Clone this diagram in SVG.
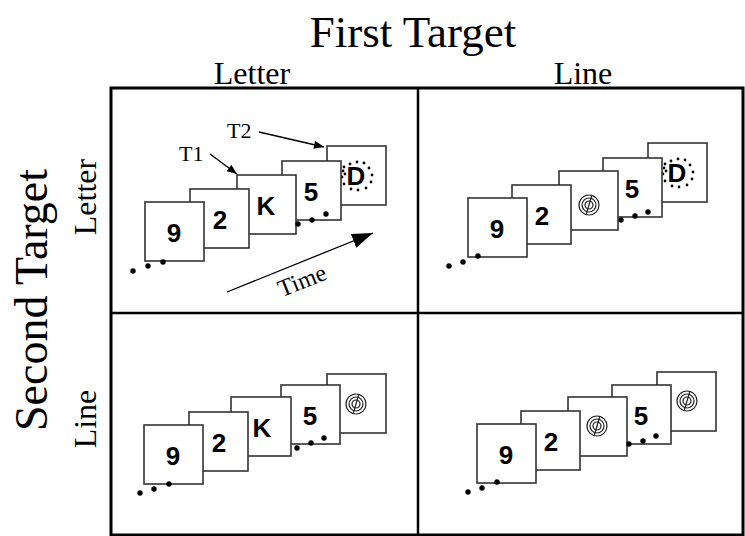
<svg xmlns="http://www.w3.org/2000/svg" xmlns:xlink="http://www.w3.org/1999/xlink" width="745" height="536" viewBox="0 0 745 536">
  <style>
    .serif { font-family: "Liberation Serif", "Times New Roman", serif; fill: #000; }
    .card { fill: #fff; stroke: #333; stroke-width: 1.6; }
    .glyph { font-family: "Liberation Sans", Arial, sans-serif; font-weight: bold; font-size: 26px; text-anchor: middle; fill: #000; }
    .frame { fill: none; stroke: #000; stroke-width: 3; }
    .divider { stroke: #000; stroke-width: 2.5; }
    .dot { fill: #000; }
    .ring { fill: none; stroke: #222; stroke-width: 1.2; }
    .arrow { stroke: #000; stroke-width: 1.3; fill: none; }
  </style>
  <defs>
    <!-- concentric rings with a slanted stroke: the "line" target -->
    <g id="rings">
      <circle class="ring" r="10"/>
      <circle class="ring" r="7"/>
      <circle class="ring" r="4"/>
      <line class="ring" x1="3" y1="-10" x2="-3" y2="10" stroke-width="1.4"/>
    </g>
    <!-- letter D surrounded by a ring of small dots -->
    <g id="dottedD">
      <text class="glyph" x="-1" y="9" font-size="25">D</text>
      <g class="dot">
        <circle cx="-13" cy="-9" r="1.4"/>
        <circle cx="-7" cy="-12" r="1.4"/>
        <circle cx="0" cy="-14" r="1.4"/>
        <circle cx="7" cy="-13" r="1.4"/>
        <circle cx="12" cy="-8" r="1.4"/>
        <circle cx="15" cy="-1" r="1.4"/>
        <circle cx="14" cy="6" r="1.4"/>
        <circle cx="9" cy="12" r="1.4"/>
        <circle cx="1" cy="14" r="1.4"/>
        <circle cx="-6" cy="13" r="1.4"/>
        <circle cx="-13" cy="8" r="1.4"/>
        <circle cx="-15" cy="1" r="1.4"/>
        <circle cx="-12" cy="-2" r="1.4"/>
        <circle cx="-14" cy="-5" r="1.4"/>
      </g>
    </g>
    <marker id="headSmall" viewBox="0 0 10 8" refX="10" refY="4" markerWidth="11" markerHeight="8" markerUnits="userSpaceOnUse" orient="auto">
      <path d="M0,0 L10,4 L0,8 Z" fill="#000"/>
    </marker>
    <marker id="headLarge" viewBox="0 0 20 14" refX="20" refY="7" markerWidth="21" markerHeight="15" markerUnits="userSpaceOnUse" orient="auto">
      <path d="M0,0 L20,7 L0,14 Z" fill="#000"/>
    </marker>
  </defs>

  <!-- headings -->
  <g id="headings">
    <text class="serif" x="413" y="47" font-size="45" text-anchor="middle">First Target</text>
    <text class="serif" x="252" y="84" font-size="32" text-anchor="middle">Letter</text>
    <text class="serif" x="583" y="84" font-size="32" text-anchor="middle">Line</text>
    <text class="serif" font-size="46" text-anchor="middle" transform="translate(47,300) rotate(-90)">Second Target</text>
    <text class="serif" font-size="32" text-anchor="middle" transform="translate(96,197) rotate(-90)">Letter</text>
    <text class="serif" font-size="32" text-anchor="middle" transform="translate(96,419) rotate(-90)">Line</text>
  </g>

  <!-- grid -->
  <g id="grid">
    <rect class="frame" x="111" y="88" width="632" height="447"/>
    <line class="divider" x1="418" y1="88" x2="418" y2="535"/>
    <line class="divider" x1="111" y1="313" x2="743" y2="313"/>
  </g>

  <!-- letter / letter -->
  <g id="cell-letter-letter">
    <g id="ll-5"><rect class="card" x="327" y="146" width="59" height="59"/><use href="#dottedD" x="357" y="176"/></g>
    <g id="ll-4"><rect class="card" x="282" y="161" width="59" height="59"/><text class="glyph" x="311" y="201">5</text></g>
    <g id="ll-3"><rect class="card" x="237" y="175" width="59" height="59"/><text class="glyph" x="266" y="215">K</text></g>
    <g id="ll-2"><rect class="card" x="190" y="189" width="59" height="59"/><text class="glyph" x="220" y="229">2</text></g>
    <g id="ll-1"><rect class="card" x="145" y="202" width="59" height="59"/><text class="glyph" x="174" y="242">9</text></g>
    <g class="dot">
      <circle cx="133" cy="271" r="2.7"/><circle cx="148" cy="266" r="2.7"/><circle cx="163" cy="262" r="2.7"/>
      <circle cx="298" cy="224" r="2.7"/><circle cx="312" cy="220" r="2.7"/><circle cx="326" cy="214" r="2.7"/>
    </g>
  </g>

  <!-- line / letter -->
  <g id="cell-line-letter">
    <g id="nl-5"><rect class="card" x="648" y="143" width="59" height="59"/><use href="#dottedD" x="678" y="173"/></g>
    <g id="nl-4"><rect class="card" x="603" y="158" width="59" height="59"/><text class="glyph" x="632" y="198">5</text></g>
    <g id="nl-3"><rect class="card" x="559" y="171" width="59" height="59"/><use href="#rings" x="589" y="205"/></g>
    <g id="nl-2"><rect class="card" x="512" y="185" width="59" height="59"/><text class="glyph" x="542" y="225">2</text></g>
    <g id="nl-1"><rect class="card" x="468" y="198" width="59" height="59"/><text class="glyph" x="497" y="238">9</text></g>
    <g class="dot">
      <circle cx="449" cy="266" r="2.7"/><circle cx="463" cy="262" r="2.7"/><circle cx="478" cy="256" r="2.7"/>
      <circle cx="621" cy="220" r="2.7"/><circle cx="635" cy="216" r="2.7"/><circle cx="648" cy="212" r="2.7"/>
    </g>
  </g>

  <!-- letter / line -->
  <g id="cell-letter-line">
    <g id="lr-5"><rect class="card" x="327" y="374" width="59" height="59"/><use href="#rings" x="356" y="404"/></g>
    <g id="lr-4"><rect class="card" x="281" y="385" width="59" height="59"/><text class="glyph" x="310" y="425">5</text></g>
    <g id="lr-3"><rect class="card" x="231" y="397" width="60" height="59"/><text class="glyph" x="262" y="437">K</text></g>
    <g id="lr-2"><rect class="card" x="189" y="412" width="59" height="59"/><text class="glyph" x="219" y="452">2</text></g>
    <g id="lr-1"><rect class="card" x="144" y="425" width="59" height="59"/><text class="glyph" x="173" y="465">9</text></g>
    <g class="dot">
      <circle cx="140" cy="493" r="2.7"/><circle cx="154" cy="489" r="2.7"/><circle cx="169" cy="484" r="2.7"/>
      <circle cx="297" cy="448" r="2.7"/><circle cx="311" cy="443" r="2.7"/><circle cx="324" cy="438" r="2.7"/>
    </g>
  </g>

  <!-- line / line -->
  <g id="cell-line-line">
    <g id="nn-5"><rect class="card" x="657" y="372" width="59" height="59"/><use href="#rings" x="687" y="401"/></g>
    <g id="nn-4"><rect class="card" x="612" y="385" width="59" height="59"/><text class="glyph" x="641" y="425">5</text></g>
    <g id="nn-3"><rect class="card" x="568" y="397" width="59" height="59"/><use href="#rings" x="597" y="426"/></g>
    <g id="nn-2"><rect class="card" x="521" y="411" width="59" height="59"/><text class="glyph" x="551" y="451">2</text></g>
    <g id="nn-1"><rect class="card" x="477" y="424" width="59" height="59"/><text class="glyph" x="506" y="464">9</text></g>
    <g class="dot">
      <circle cx="468" cy="492" r="2.7"/><circle cx="482" cy="488" r="2.7"/><circle cx="497" cy="482" r="2.7"/>
      <circle cx="629" cy="444" r="2.7"/><circle cx="643" cy="441" r="2.7"/><circle cx="656" cy="436" r="2.7"/>
    </g>
  </g>

  <!-- target pointers and time axis -->
  <g id="connectors">
    <line class="arrow" x1="259" y1="132" x2="324" y2="147" marker-end="url(#headSmall)"/>
    <line class="arrow" x1="210" y1="154" x2="237" y2="174" marker-end="url(#headSmall)"/>
    <line class="arrow" x1="227" y1="292" x2="373" y2="233" marker-end="url(#headLarge)"/>
  </g>
  <g id="labels">
    <text class="serif" x="227" y="138" font-size="22">T2</text>
    <text class="serif" x="179" y="161" font-size="22">T1</text>
    <text class="serif" font-size="24" text-anchor="middle" transform="translate(305,288) rotate(-21.8)">Time</text>
  </g>
</svg>
